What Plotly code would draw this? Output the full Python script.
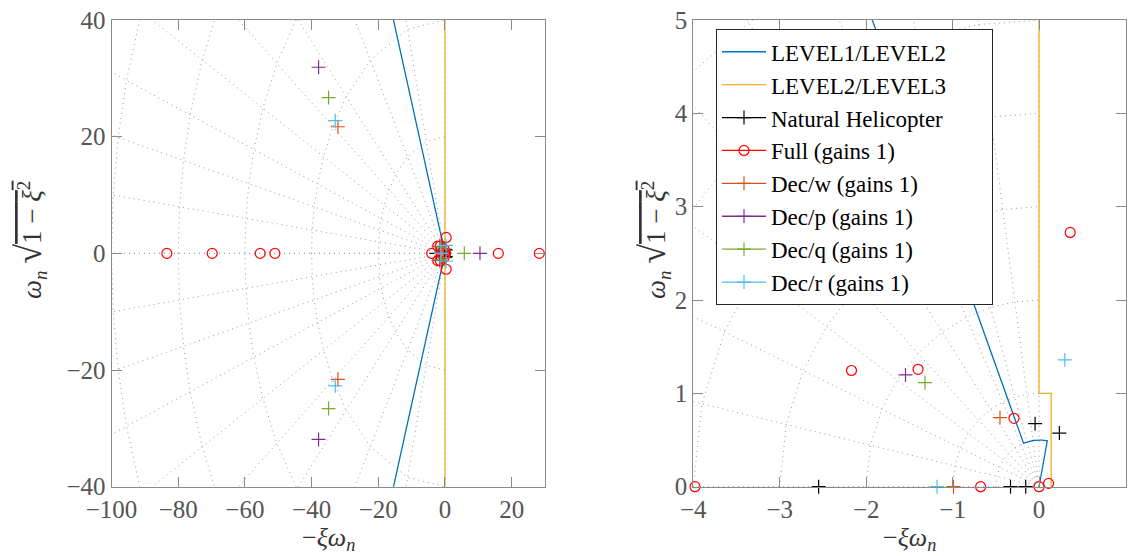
import numpy as np
import plotly.graph_objects as go

# ---------------- data: poles (real part, imaginary part) ----------------
natural_re = [-2.55, -0.33, -0.154, -0.046, -0.046, 0.235, 0.235]
natural_im = [0.0, 0.0, 0.0, 0.675, -0.675, 0.575, -0.575]

full_re = [-83.4, -69.8, -55.4, -51.0, -3.98, -2.17, -2.17, -1.40, -1.40,
           -0.29, -0.29, -0.676, 0.0, 0.11, 0.11, 0.36, 0.36, 16.0, 28.3]
full_im = [0.0, 0.0, 0.0, 0.0, 0.0, 1.245, -1.245, 1.258, -1.258,
           0.733, -0.733, 0.0, 0.0, 0.036, -0.036, 2.724, -2.724, 0.0, 0.0]

decw_re = [-32.1, -32.1, -0.452, -0.452, -0.99]
decw_im = [21.7, -21.6, 0.74, -0.74, 0.0]

decp_re = [-37.9, -37.9, -1.545, -1.545, 10.5]
decp_im = [31.9, -31.9, 1.197, -1.197, 0.0]

decq_re = [-34.9, -34.9, -1.32, -1.32, 5.8]
decq_im = [26.7, -26.6, 1.115, -1.115, 0.0]

decr_re = [-32.9, -32.9, 0.298, 0.298, -1.18]
decr_im = [22.75, -22.7, 1.358, -1.358, 0.0]

# ---------------- handling-qualities boundaries ----------------
lvl12_zeta = 0.36        # damping ratio of LEVEL1/LEVEL2 line
lvl12_wn_break = 0.5     # natural frequency of the break
lvl12_zeta_low = -0.19   # damping below the break
lvl23_x = [0.0, 0.0, 0.14, 0.14, 0.0, 0.0]
lvl23_y = [-60.0, -1.0, -1.0, 1.0, 1.0, 60.0]

# ---------------- s-plane grid ----------------
left_zeta = [0.0, 0.28, 0.56, 0.74, 0.84, 0.91, 0.955, 0.98, 0.995, 1.0]
left_wn = [20, 40, 60, 80, 100]
right_zeta = [0.0, 0.14, 0.28, 0.42, 0.56, 0.7, 0.82, 0.91, 0.975, 1.0]
right_wn = [0.5, 1, 2, 3, 4, 5, 6]

# ---------------- ticks ----------------
left_xticks = [-100, -80, -60, -40, -20, 0, 20]
left_yticks = [-40, -20, 0, 20, 40]
right_xticks = [-4, -3, -2, -1, 0, 1]
right_yticks = [0, 1, 2, 3, 4, 5]

left_range_x, left_range_y = [-100, 30], [-40, 40]
right_range_x, right_range_y = [-4, 1], [0, 5]

series = [
    ("Natural Helicopter", natural_re, natural_im, "black", "cross-thin"),
    ("Full (gains 1)", full_re, full_im, "#FF0000", "circle-open"),
    ("Dec/w (gains 1)", decw_re, decw_im, "#D95319", "cross-thin"),
    ("Dec/p (gains 1)", decp_re, decp_im, "#7E2F8E", "cross-thin"),
    ("Dec/q (gains 1)", decq_re, decq_im, "#77AC30", "cross-thin"),
    ("Dec/r (gains 1)", decr_re, decr_im, "#4DBEEE", "cross-thin"),
]

W, H = 1130, 556
FONT = "Liberation Serif, DejaVu Serif, serif"
GRID_COLOR = "#999999"
AX_COLOR = "#8a8a8a"
TICK_FONT_COLOR = "#555555"
PAD = "\u00a0" * 7   # widens the legend box like the reference

fig = go.Figure()


def grid_traces(zetas, wns, rmax, xa, ya):
    xs, ys = [], []
    for z in zetas:
        s = np.sqrt(1 - z * z)
        for sign in (1, -1):
            xs += [0.0, -z * rmax, None]
            ys += [0.0, sign * s * rmax, None]
    zs = sorted(zetas, reverse=True)
    for w in wns:
        for sign in (1, -1):
            for z in zs:
                xs.append(-z * w)
                ys.append(sign * w * np.sqrt(1 - z * z))
            xs.append(None)
            ys.append(None)
    fig.add_trace(go.Scatter(x=xs, y=ys, mode="lines", xaxis=xa, yaxis=ya,
                             line=dict(color=GRID_COLOR, width=1, dash="1px,4px"),
                             hoverinfo="skip", showlegend=False))


def level12_curve(rmax):
    s = np.sqrt(1 - lvl12_zeta ** 2)
    zarc = np.linspace(lvl12_zeta, lvl12_zeta_low, 25)
    ux = [-lvl12_zeta * rmax] + list(-zarc * lvl12_wn_break) + [0.0]
    uy = [s * rmax] + list(np.sqrt(1 - zarc ** 2) * lvl12_wn_break) + [0.0]
    lx = ux[::-1]
    ly = [-v for v in uy[::-1]]
    return ux + lx[1:], uy + ly[1:]


def add_panel(xa, ya, zetas, wns, rmax, rx, ry, legend):
    grid_traces(zetas, wns, rmax, xa, ya)
    bx, by = level12_curve(rmax)
    fig.add_trace(go.Scatter(x=bx, y=by, mode="lines", name="LEVEL1/LEVEL2" + PAD,
                             xaxis=xa, yaxis=ya, line=dict(color="#0072BD", width=1.3),
                             showlegend=legend))
    fig.add_trace(go.Scatter(x=lvl23_x, y=lvl23_y, mode="lines", name="LEVEL2/LEVEL3",
                             xaxis=xa, yaxis=ya, line=dict(color="#EDB120", width=1.3),
                             showlegend=legend))
    for name, re, im, col, sym in series:
        xs, ys = [], []
        for a, b in zip(re, im):
            if rx[0] - 1e-9 <= a <= rx[1] + 1e-9 and ry[0] - 1e-9 <= b <= ry[1] + 1e-9:
                xs += [a, None]
                ys += [b, None]
        fig.add_trace(go.Scatter(
            x=xs, y=ys, mode="lines+markers", name=name, xaxis=xa, yaxis=ya,
            connectgaps=False, cliponaxis=False,
            line=dict(color=col, width=1.3),
            marker=dict(symbol=sym, size=10, color=col, line=dict(color=col, width=1.2)),
            showlegend=legend))


add_panel("x", "y", left_zeta, left_wn, 130, left_range_x, left_range_y, False)
add_panel("x2", "y2", right_zeta, right_wn, 8, right_range_x, right_range_y, True)

ydom = [(H - 486.7) / H, (H - 20) / H]
axis_common = dict(showline=True, linecolor=AX_COLOR, linewidth=1, mirror="ticks",
                   ticks="inside", ticklen=10, tickcolor=AX_COLOR, tickwidth=1,
                   showgrid=False, zeroline=False, automargin=False,
                   tickfont=dict(family=FONT, size=25, color=TICK_FONT_COLOR))

fig.update_layout(
    width=W, height=H, margin=dict(l=0, r=0, t=0, b=0, autoexpand=False),
    paper_bgcolor="white", plot_bgcolor="white",
    xaxis=dict(domain=[111.5 / W, 545 / W], range=left_range_x, tickvals=left_xticks,
               anchor="y", **axis_common),
    yaxis=dict(domain=ydom, range=left_range_y, tickvals=left_yticks, anchor="x",
               **axis_common),
    xaxis2=dict(domain=[693.3 / W, 1125.5 / W], range=right_range_x, tickvals=right_xticks,
                anchor="y2", **axis_common),
    yaxis2=dict(domain=ydom, range=right_range_y, tickvals=right_yticks, anchor="x2",
                **axis_common),
    legend=dict(x=716 / W, y=1 - 29.3 / H, xanchor="left", yanchor="top",
                bgcolor="white", bordercolor="#262626", borderwidth=1,
                font=dict(family=FONT, size=23, color="black"),
                itemwidth=44, tracegroupgap=0),
    showlegend=True,
)

xlabel = "−<i>ξω</i><sub><i>n</i></sub>"
ylabel = ("<i>ω</i><sub><i>n</i></sub> <span style='font-size:36px'>√</span>"
          "<span style='text-decoration:overline'>1 − <i>ξ</i><sup>2</sup></span>")
lab_font = dict(family=FONT, size=26, color="#333333")
for cx in [(111.5 + 545) / 2, (693.3 + 1125.5) / 2]:
    fig.add_annotation(text=xlabel, x=cx / W, y=1 - 539 / H, xref="paper", yref="paper",
                       showarrow=False, xanchor="center", yanchor="middle", font=lab_font)
for cx in [30, 654]:
    fig.add_annotation(text=ylabel, x=cx / W, y=1 - 240 / H, xref="paper", yref="paper",
                       showarrow=False, xanchor="center", yanchor="middle",
                       textangle=-90, font=dict(family=FONT, size=27, color="#333333"))

fig.write_html("out.html", config={"displayModeBar": False},
               post_script="document.body.style.margin='0px';")
